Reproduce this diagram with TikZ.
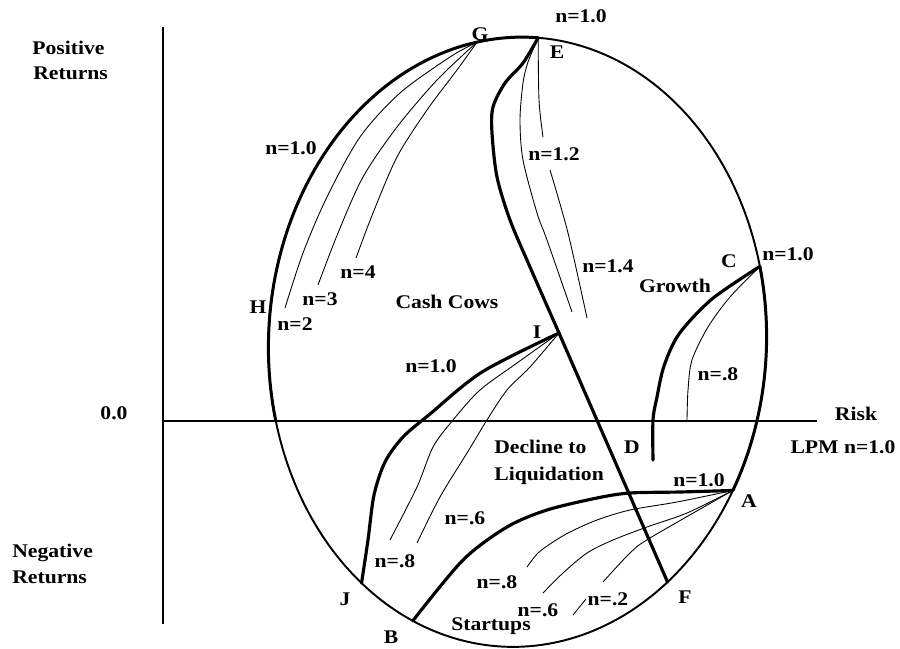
\documentclass[tikz,border=0pt]{standalone}
\usepackage{fontspec}
\setmainfont{Liberation Serif}[FakeStretch=1.12]
\begin{document}
\begin{tikzpicture}[x=0.02cm, y=-0.02cm,
  lbl/.style={font=\fontsize{11}{13}\selectfont\bfseries, inner sep=0pt, anchor=base},
  lblw/.style={lbl, anchor=base west},
  ell/.style={line width=1.1pt},
  ellthick/.style={line width=1.7pt},
  front/.style={line width=1.8pt, line join=round, line cap=round},
  thin/.style={line width=0.5pt},
  axisline/.style={line width=1.5pt}]
\useasboundingbox (0,0) rectangle (900,649);

% ellipse and its named points
\begin{scope}[shift={(517.5,342)}, rotate=-2.5]
  \draw[ell] plot[domain=0:360, samples=180, smooth] ({249*cos(\x)},{305*sin(\x)}) -- cycle;
  \draw[ellthick] plot[domain=163.1:271.7, samples=60, smooth] ({249*cos(\x)},{305*sin(\x)});
  \draw[ellthick] plot[domain=-16.4:27.1, samples=30, smooth] ({249*cos(\x)},{305*sin(\x)});
  \coordinate (C) at ({249*cos(-16.4)},{305*sin(-16.4)});
  \coordinate (A) at ({249*cos(27.1)},{305*sin(27.1)});
  \coordinate (F) at ({249*cos(49.9)},{305*sin(49.9)});
  \coordinate (B) at ({249*cos(111.8)},{305*sin(111.8)});
  \coordinate (J) at ({249*cos(125.7)},{305*sin(125.7)});
  \coordinate (H) at ({249*cos(185.9)},{305*sin(185.9)});
  \coordinate (G) at ({249*cos(257.6)},{305*sin(257.6)});
  \coordinate (E) at ({249*cos(271.7)},{305*sin(271.7)});
\end{scope}

% axes
\coordinate (vtop) at (163,27);
\coordinate (vbot) at (163,624);
\coordinate (horig) at (163,421);
\coordinate (hend) at (817,421);
\draw[axisline] (vtop) -- (vbot);
\draw[axisline] (horig) -- (hend);

% other named points
\coordinate (I) at (559,333);
\coordinate (D) at (653,460);
\coordinate (g2) at (285,308);
\coordinate (g3) at (318,285);
\coordinate (g4) at (356,258);
\coordinate (e1) at (572,312);
\coordinate (e2a) at (543,137);
\coordinate (e2b) at (550,170);
\coordinate (e2) at (587,318);
\coordinate (c1) at (687,420);
\coordinate (i1) at (390,540);
\coordinate (i2) at (417,543);
\coordinate (a1) at (527,567);
\coordinate (a2) at (543,593);
\coordinate (a3) at (603,582);
\coordinate (a3b) at (586,599);
\coordinate (a3c) at (573,615);

% G fan
\draw[thin] plot[smooth] coordinates {(G) (450,57) (400,93) (360,137) (327,197) (303,253) (g2)};
\draw[thin] plot[smooth] coordinates {(G) (437,80) (397,127) (363,177) (338,233) (g3)};
\draw[thin] plot[smooth] coordinates {(G) (457,70) (427,110) (397,157) (373,213) (g4)};

% E curves
\draw[front] plot[smooth] coordinates {(E) (523,63) (505,83) (493,107) (492,133) (497,177) (510,220) (530,267) (I)} -- (F);
\draw[thin] plot[smooth] coordinates {(E) (528,62) (523,83) (520,120) (523,160) (537,213) (547,240) (e1)};
\draw[thin] plot[smooth] coordinates {(E) (539,100) (e2a)};
\draw[thin] plot[smooth] coordinates {(e2b) (568,233) (e2)};

% C curves
\draw[front] plot[smooth] coordinates {(C) (712,299) (679,334) (664,366) (657,397) (653,420) (D)};
\draw[thin] plot[smooth] coordinates {(C) (730,297) (708,327) (692,360) (688,390) (c1)};

% I curves
\draw[front] plot[smooth] coordinates {(I) (482,372) (430,414) (403,437) (385,462) (374,495) (368,540) (J)};
\draw[thin] plot[smooth] coordinates {(I) (517,363) (480,390) (453,420) (433,447) (417,487) (i1)};
\draw[thin] plot[smooth] coordinates {(I) (530,367) (507,390) (487,420) (467,453) (440,497) (i2)};

% B - A curves
\draw[front] plot[smooth] coordinates {(B) (463,560) (507,527) (547,510) (597,498) (630,493) (680,492) (A)};
\draw[thin] plot[smooth] coordinates {(A) (677,502) (630,510) (597,520) (570,532) (553,542) (538,553) (a1)};
\draw[thin] plot[smooth] coordinates {(A) (687,513) (647,527) (613,540) (587,553) (563,573) (a2)};
\draw[thin] plot[smooth] coordinates {(A) (650,538) (630,553) (a3)};
\draw[thin] (a3b) -- (a3c);

% labels
\node[lblw] (lpos) at (32,54) {Positive};
\node[lblw] (lposr) at (33,79) {Returns};
\node[lbl] (lzero) at (114,419) {0.0};
\node[lblw] (lneg) at (12,557) {Negative};
\node[lblw] (lnegr) at (12,583) {Returns};
\node[lbl] (ltopn) at (581,23) {n=1.0};
\node[lbl] (lG) at (480,40) {G};
\node[lbl] (lE) at (557,58) {E};
\node[lbl] (lgn) at (291,154) {n=1.0};
\node[lbl] (ln2) at (295,330) {n=2};
\node[lbl] (ln3) at (320,305) {n=3};
\node[lbl] (ln4) at (358,278) {n=4};
\node[lbl] (lH) at (258,313) {H};
\node[lbl] (lcash) at (447,308) {Cash Cows};
\node[lbl] (ln12) at (554,160) {n=1.2};
\node[lbl] (ln14) at (608,272) {n=1.4};
\node[lbl] (lgrowth) at (675,292) {Growth};
\node[lbl] (lC) at (729,267) {C};
\node[lbl] (lcn) at (788,260) {n=1.0};
\node[lbl] (lcn8) at (718,380) {n=.8};
\node[lbl] (lrisk) at (856,420) {Risk};
\node[lbl] (lD) at (632,453) {D};
\node[lbl] (llpm) at (843,453) {LPM n=1.0};
\node[lbl] (lI) at (537,338) {I};
\node[lbl] (lin) at (431,372) {n=1.0};
\node[lblw] (ldec) at (494,453) {Decline to};
\node[lblw] (lliq) at (494,480) {Liquidation};
\node[lbl] (lin6) at (465,524) {n=.6};
\node[lbl] (lin8) at (395,567) {n=.8};
\node[lbl] (lJ) at (345,605) {J};
\node[lbl] (lan8) at (497,588) {n=.8};
\node[lbl] (lan6) at (538,616) {n=.6};
\node[lbl] (lan2) at (608,605) {n=.2};
\node[lbl] (lstart) at (491,630) {Startups};
\node[lbl] (lB) at (391,643) {B};
\node[lbl] (lF) at (685,603) {F};
\node[lbl] (lan) at (699,486) {n=1.0};
\node[lbl] (lA) at (749,507) {A};
\end{tikzpicture}
\end{document}
